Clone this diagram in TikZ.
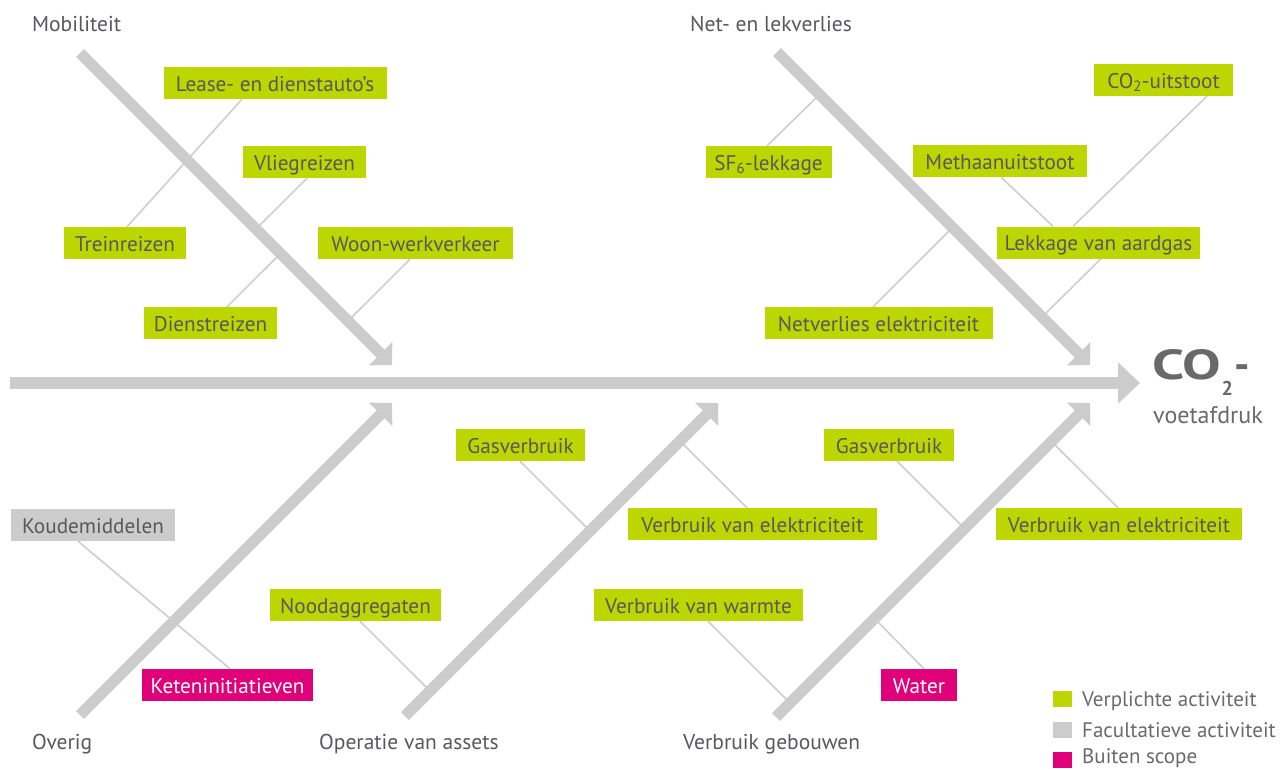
\documentclass[tikz,border=0pt]{standalone}
\usepackage{fontspec}
\usepackage{graphicx}
\setmainfont{PT Sans}
\usetikzlibrary{arrows.meta}
\definecolor{lime}{RGB}{190,214,0}
\definecolor{mag}{RGB}{224,0,122}
\definecolor{bone}{RGB}{204,204,204}
\definecolor{txt}{RGB}{88,88,96}
\definecolor{legt}{RGB}{105,105,110}
\definecolor{big}{RGB}{105,105,107}
\newcommand\boxfont{\fontsize{21.2}{22}\selectfont}
\newcommand\catfont{\fontsize{21.5}{22}\selectfont}
\pgfdeclarelayer{bottom}
\pgfdeclarelayer{lines}
\pgfsetlayers{bottom,lines,main}
\begin{document}
\begin{tikzpicture}[x=1pt,y=-1pt,
  actbox/.style={fill=lime, text=txt, font=\boxfont, minimum height=32pt, inner sep=0pt, text height=18pt, text depth=2pt},
  optbox/.style={actbox, fill=bone},
  outbox/.style={actbox, fill=mag, text=white},
  cat/.style={text=txt, font=\catfont, inner sep=0pt, anchor=base west},
  twig/.style={draw=bone, line width=1.5pt},
  fishbone/.style={draw=bone, line width=11pt, -{Triangle[length=16pt,width=32pt]}},
  spine/.style={draw=bone, line width=12pt, -{Triangle[length=22pt,width=40pt]}},
  legsq/.style={minimum width=19pt, minimum height=16pt, inner sep=0pt},
  legtxt/.style={text=legt, font=\fontsize{21}{22}\selectfont, inner sep=0pt, anchor=base west},
  bigtxt/.style={text=big, inner sep=0pt, anchor=base west}]
\begin{pgfonlayer}{bottom}
\fill[white] (0,0) rectangle (1280,769);
\end{pgfonlayer}
\useasboundingbox (0,0) rectangle (1280,769);

% shaft coordinates
\coordinate (spS) at (10,383);   \coordinate (spE) at (1140,383);
\coordinate (mobS) at (80,53);   \coordinate (mobE) at (392,365);
\coordinate (netS) at (777,52);  \coordinate (netE) at (1090,365);
\coordinate (ovS) at (80,715);   \coordinate (ovE) at (392,403);
\coordinate (opS) at (405,716);  \coordinate (opE) at (718,403);
\coordinate (gbS) at (776,717);  \coordinate (gbE) at (1090,403);

% boxes
\node[actbox, minimum width=223pt] (lease) at (275,83) {Lease- en dienstauto’s};
\node[actbox, minimum width=123pt] (vlieg) at (304.5,162) {Vliegreizen};
\node[actbox, minimum width=122pt] (trein) at (125,243) {Treinreizen};
\node[actbox, minimum width=195pt] (woon) at (415.5,243) {Woon-werkverkeer};
\node[actbox, minimum width=133pt] (dienst) at (210.5,323) {Dienstreizen};

\node[actbox, minimum width=126pt] (sf) at (768.5,162) {SF\textsubscript{6}-lekkage};
\node[actbox, minimum width=174pt] (meth) at (1000,161) {Methaanuitstoot};
\node[actbox, minimum width=139pt] (cot) at (1163.5,80) {CO\textsubscript{2}-uitstoot};
\node[actbox, minimum width=203pt] (lek) at (1098.5,242.5) {Lekkage van aardgas};
\node[actbox, minimum width=228pt] (netv) at (878.5,323) {Netverlies elektriciteit};

\node[optbox, minimum width=164pt] (koud) at (93,525) {Koudemiddelen};
\node[outbox, minimum width=171pt] (keten) at (227.5,685) {Keteninitiatieven};
\node[actbox, minimum width=171pt] (nood) at (355.5,605) {Noodaggregaten};
\node[actbox, minimum width=129pt] (gasA) at (520.5,445) {Gasverbruik};
\node[actbox, minimum width=249pt] (elekA) at (752.5,524) {Verbruik van elektriciteit};
\node[actbox, minimum width=209pt] (warm) at (698.5,605) {Verbruik van warmte};
\node[actbox, minimum width=130pt] (gasB) at (889,445) {Gasverbruik};
\node[outbox, minimum width=76pt] (water) at (919,685) {Water};
\node[actbox, minimum width=246pt] (elekB) at (1119,524) {Verbruik van elektriciteit};

% twig end points on the shafts
\coordinate (jVlieg) at (256,229);
\coordinate (jDienst) at (280.5,253.5);
\coordinate (jWoon) at (348,321);
\coordinate (jSf) at (819.5,94.5);
\coordinate (jNetv) at (952.5,227.5);
\coordinate (jLek) at (1042,317);
\coordinate (jNood) at (430,691);
\coordinate (jGasA) at (590,531);
\coordinate (jElekA) at (680,441);
\coordinate (jWarm) at (790,703);
\coordinate (jGasB) at (964.5,528.5);
\coordinate (jWater) at (874.5,618.5);
\coordinate (jElekB) at (1051.5,441.5);

\begin{pgfonlayer}{lines}
% twigs
\draw[twig] (lease.south -| 242,0) -- (trein.north -| 127,0);
\draw[twig] (vlieg.south -| 307,0) -- (jVlieg);
\draw[twig] (dienst.north -| 227,0) -- (jDienst);
\draw[twig] (woon.south -| 410,0) -- (jWoon);
\draw[twig] (sf.north -| 767,0) -- (jSf);
\draw[twig] (netv.north -| 873,0) -- (jNetv);
\draw[twig] (lek.south -| 1101,0) -- (jLek);
\draw[twig] (meth.south -| 1001,0) -- (lek.north -| 1053,0);
\draw[twig] (cot.south -| 1207,0) -- (lek.north -| 1073,0);
\draw[twig] (koud.south -| 78,0) -- (keten.north -| 230,0);
\draw[twig] (nood.south -| 360,0) -- (jNood);
\draw[twig] (gasA.south -| 520,0) -- (jGasA);
\draw[twig] (elekA.north -| 747,0) -- (jElekA);
\draw[twig] (warm.south -| 708,0) -- (jWarm);
\draw[twig] (gasB.south -| 897,0) -- (jGasB);
\draw[twig] (water.north -| 924,0) -- (jWater);
\draw[twig] (elekB.north -| 1118,0) -- (jElekB);
% shafts
\draw[spine] (spS) -- (spE);
\draw[fishbone] (mobS) -- (mobE);
\draw[fishbone] (netS) -- (netE);
\draw[fishbone] (ovS) -- (ovE);
\draw[fishbone] (opS) -- (opE);
\draw[fishbone] (gbS) -- (gbE);
\end{pgfonlayer}

% category labels
\node[cat] (mob) at (32,31) {Mobiliteit};
\node[cat] (net) at (690,31) {Net- en lekverlies};
\node[cat] (ov) at (32,749) {Overig};
\node[cat] (op) at (319,749) {Operatie van assets};
\node[cat] (gb) at (683,749) {Verbruik gebouwen};

% result label
\node[bigtxt, font=\fontsize{43}{43}\selectfont\bfseries] (co) at (1152,379) {\resizebox{69pt}{30pt}{CO}};
\node[bigtxt, font=\fontsize{20}{20}\selectfont\bfseries, anchor=base west] (cotwo) at ([xshift=0pt,yshift=-16pt]co.base east) {2};
\node[bigtxt, font=\fontsize{43}{43}\selectfont\bfseries, anchor=base west] (codash) at ([xshift=1pt,yshift=16pt]cotwo.base east) {-};
\node[bigtxt, font=\fontsize{24}{24}\selectfont] (voet) at (1153,423) {voetafdruk};

% legend
\node[legsq, fill=lime] (lg1) at (1062,699) {};
\node[legsq, fill=bone] (lg2) at (1062,730) {};
\node[legsq, fill=mag] (lg3) at (1062,760) {};
\node[legtxt] (lt1) at (1082,706) {Verplichte activiteit};
\node[legtxt] (lt2) at (1082,737) {Facultatieve activiteit};
\node[legtxt] (lt3) at (1082,763) {Buiten scope};
\end{tikzpicture}
\end{document}
